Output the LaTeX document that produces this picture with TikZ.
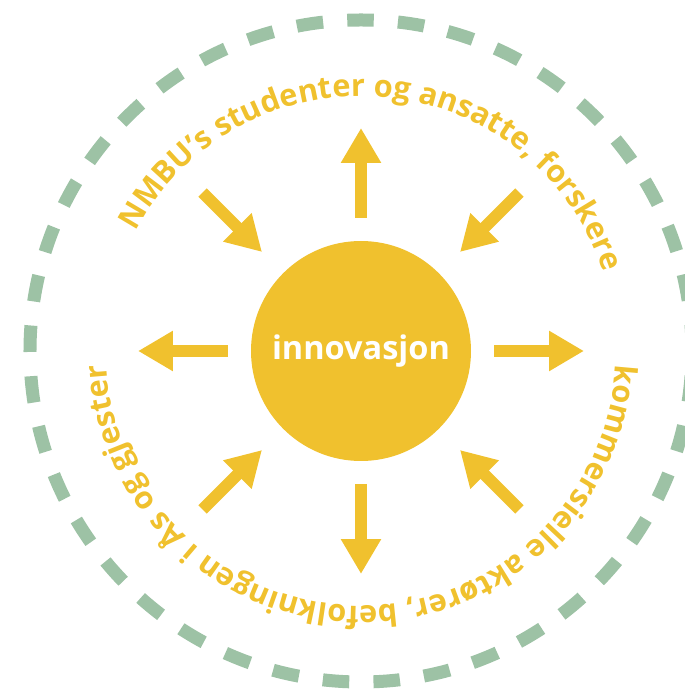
\documentclass[tikz,border=0pt]{standalone}
\usepackage{fontspec}
\setmainfont{Open Sans}
\usepackage{tikz}
\usetikzlibrary{arrows.meta}
\usetikzlibrary{decorations.text}
\definecolor{sunyellow}{RGB}{240,193,46}
\definecolor{ringgreen}{RGB}{157,194,165}
\newcommand{\arcfont}{\fontsize{17.5}{21}\selectfont\bfseries\color{sunyellow}}

\begin{document}
\begin{tikzpicture}[
        core/.style={circle, fill=sunyellow, minimum size=4.4cm, inner sep=0, text=white, font=\fontsize{18.5}{22}\selectfont\bfseries},
        ray/.style={draw=sunyellow, line width=0.24cm, -{Triangle[width=0.76cm, length=0.7cm]}},
        ring/.style={draw=ringgreen, line width=0.26cm, dash pattern=on 0.53cm off 0.4845cm},
        arclabel/.style={decorate, decoration={text along path, text align=center, text={#1}}}
    ]
        % 画布范围
        \useasboundingbox (-7.22,-6.76) rectangle (6.46,7.02);

        % 外圈虚线
        \draw[ring] (0,0) circle (6.62cm);

        % 中心圆
        \node[core] (innovasjon) at (0,0) {innovasjon};

        % 向外的箭头
        \foreach \ang in {0,90,180,270} {
            \coordinate (out-\ang-tail) at (\ang:2.66);
            \coordinate (out-\ang-tip) at (\ang:4.46);
            \draw[ray] (out-\ang-tail) -- (out-\ang-tip);
        }

        % 向内的箭头
        \foreach \ang in {45,135,225,315} {
            \coordinate (in-\ang-tail) at (\ang:4.48);
            \coordinate (in-\ang-tip) at (\ang:2.8);
            \draw[ray] (in-\ang-tail) -- (in-\ang-tip);
        }

        % 沿圆弧的文字
        \path[arclabel={|\arcfont|NMBU’s studenter og ansatte, forskere}]
            (165:5.1) arc[start angle=165, end angle=5, radius=5.1];
        \path[arclabel={|\arcfont|kommersielle aktører, befolkningen i Ås og gjester}]
            (10:5.1) arc[start angle=10, end angle=-190, radius=5.1];
    \end{tikzpicture}
\end{document}
